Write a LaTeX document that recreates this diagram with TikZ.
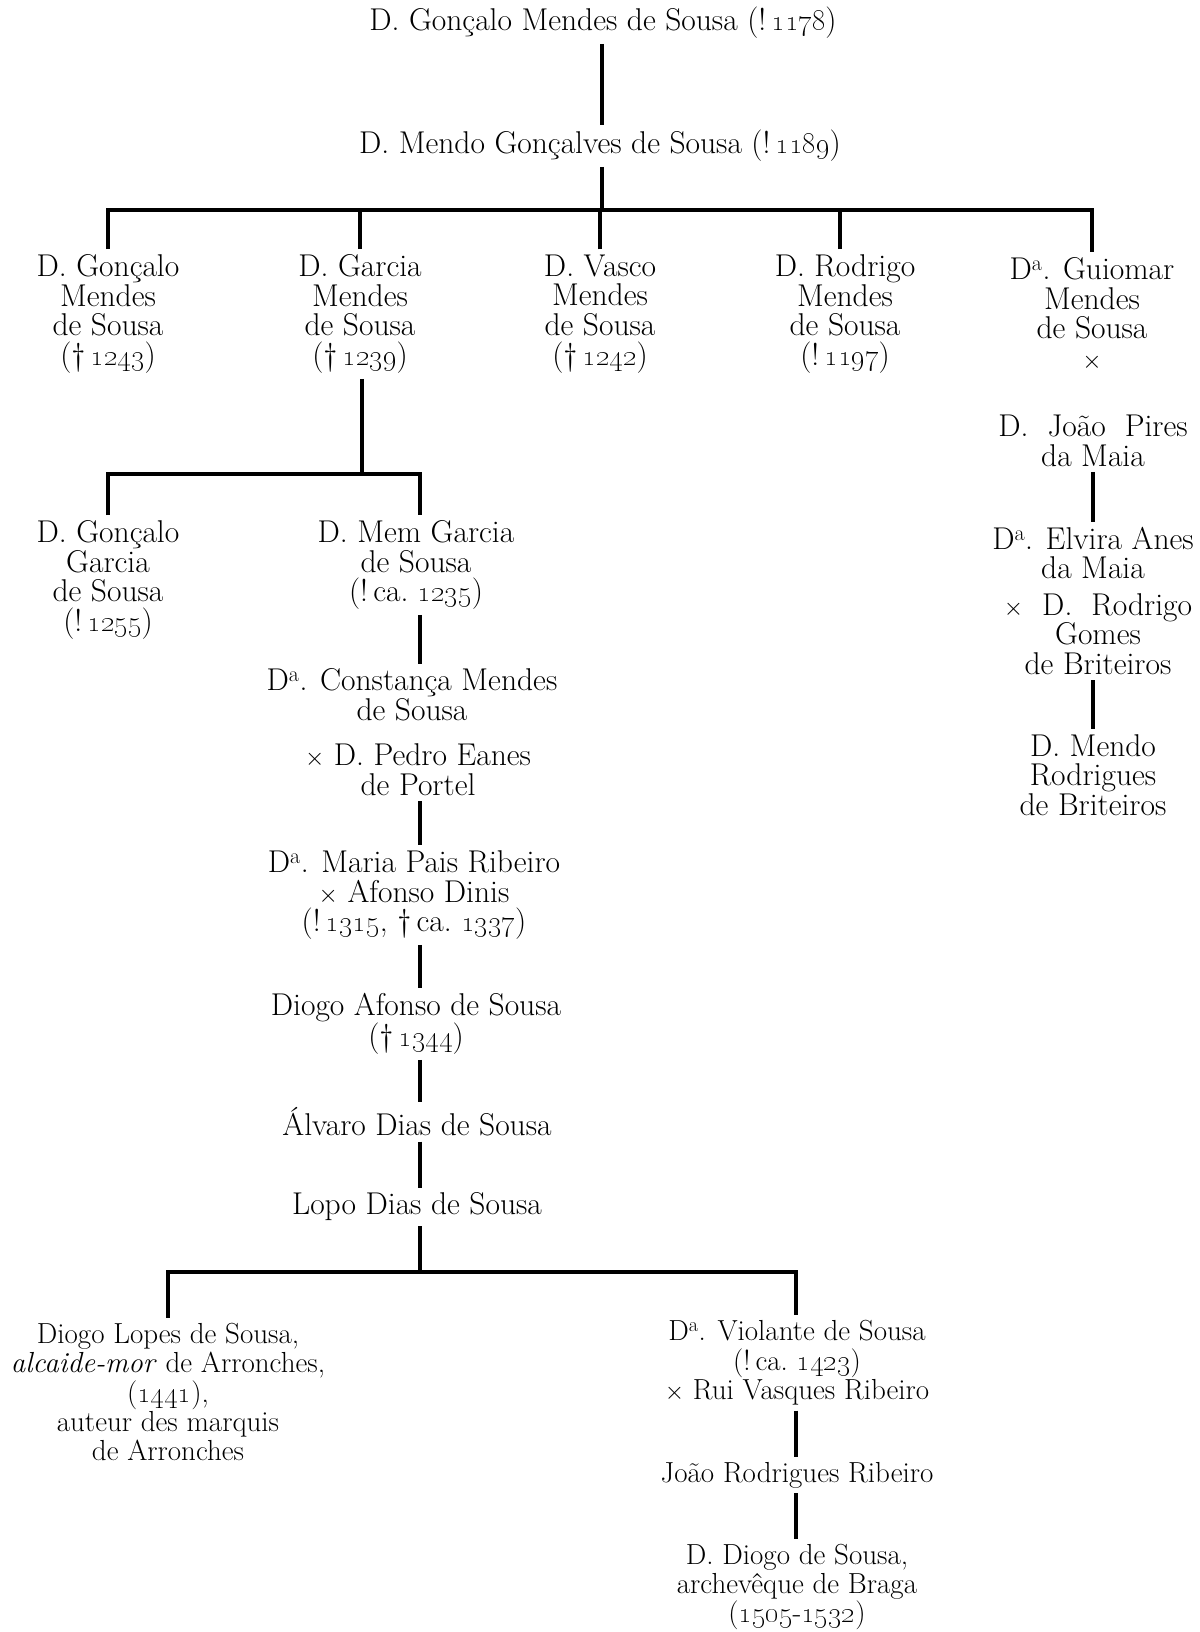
\documentclass[tikz,border=0pt]{standalone}
\newcommand\osn[1]{\oldstylenums{#1}}
\newcommand\Da{D\textsuperscript{a}}
\tikzset{
  person/.style={align=center, inner xsep=2pt, inner ysep=5pt, font=\fontsize{31.5}{29.8}\selectfont},
  narrowperson/.style={person, font=\fontsize{29}{29.4}\selectfont},
  link/.style={line width=3.1pt, line cap=butt}
}
\begin{document}
\begin{tikzpicture}[x=1pt,y=-1pt]
\useasboundingbox (0,0) rectangle (1199,1632);
% generation 0-1
\node[person] (g0) at (603,23) {D. Gonçalo Mendes de Sousa (!\,\osn{1178})};
\node[person] (g1) at (600,146) {D. Mendo Gonçalves de Sousa (!\,\osn{1189})};
% children of Mendo
\node[person] (c1) at (108,314) {D. Gonçalo\\Mendes\\de Sousa\\(\textdagger\,\osn{1243})};
\node[person] (c2) at (360,314) {D. Garcia\\Mendes\\de Sousa\\(\textdagger\,\osn{1239})};
\node[person] (c3) at (600,314) {D. Vasco\\Mendes\\de Sousa\\(\textdagger\,\osn{1242})};
\node[person] (c4) at (845,314) {D. Rodrigo\\Mendes\\de Sousa\\(!\,\osn{1197})};
\node[person] (c5) at (1092,314) {\Da. Guiomar\\Mendes\\de Sousa\\$\times$};
% right branch
\node[person] (jp) at (1093,441) {D.\ \ João\ \ Pires\\da Maia};
\node[person] (el) at (1093,553) {\Da. Elvira Anes\\da Maia};
\node[person] (rg) at (1098,634) {$\times$\ \ D.\ \ Rodrigo\\Gomes\\de Briteiros};
\node[person] (mr) at (1093,775) {D. Mendo\\Rodrigues\\de Briteiros};
% children of Garcia
\node[person] (gg) at (108,580) {D. Gonçalo\\Garcia\\de Sousa\\(!\,\osn{1255})};
\node[person] (mg) at (416,565) {D. Mem Garcia\\de Sousa\\(!\,ca.\ \osn{1235})};
\node[person] (cm) at (412,695) {\Da. Constança Mendes\\de Sousa};
\node[person] (pe) at (418,770) {$\times$ D. Pedro Eanes\\de Portel};
\node[person] (mp) at (414,895) {\Da. Maria Pais Ribeiro\\$\times$ Afonso Dinis\\(!\,\osn{1315}, \textdagger\,ca.\ \osn{1337})};
\node[person] (da) at (416,1024) {Diogo Afonso de Sousa\\(\textdagger\,\osn{1344})};
\node[person] (ad) at (417,1122) {Álvaro Dias de Sousa};
\node[person] (ld) at (417,1207) {Lopo Dias de Sousa};
% children of Lopo
\node[narrowperson] (dl) at (168,1392) {Diogo Lopes de Sousa,\\\textit{alcaide-mor} de Arronches,\\(\osn{1441}),\\auteur des marquis\\de Arronches};
\node[narrowperson] (vs) at (797,1363) {\Da. Violante de Sousa\\(!\,ca.\ \osn{1423})\\$\times$ Rui Vasques Ribeiro};
\node[narrowperson] (jr) at (797,1475) {João Rodrigues Ribeiro};
\node[narrowperson] (dd) at (797,1587) {D. Diogo de Sousa,\\archevêque de Braga\\(\osn{1505}-\osn{1532})};
% columns and bars
\coordinate (bar1) at (600,210);
\coordinate (bar2) at (362,474);
\coordinate (bar3) at (420,1272);
\coordinate (colT) at (602,0);
\coordinate (colM) at (420,0);
\coordinate (colR) at (1093,0);
\coordinate (colV) at (796,0);
\coordinate (colD) at (840,0);
% connectors
\draw[link] (g0.south -| colT) -- (g1.north -| colT);
\draw[link] (g1.south -| colT) -- (bar1 -| colT);
\draw[link] (c1.north) -- (c1.north |- bar1) -- (c5.north |- bar1) -- (c5.north);
\draw[link] (c2.north) -- (c2.north |- bar1);
\draw[link] (c3.north) -- (c3.north |- bar1);
\draw[link] (c4.north -| colD) -- (bar1 -| colD);
\draw[link] (c2.south -| bar2) -- (bar2);
\draw[link] (gg.north) -- (gg.north |- bar2) -- (bar2 -| colM) -- (mg.north -| colM);
\draw[link] (mg.south -| colM) -- (cm.north -| colM);
\draw[link] (pe.south -| colM) -- (mp.north -| colM);
\draw[link] (mp.south -| colM) -- (da.north -| colM);
\draw[link] (da.south -| colM) -- (ad.north -| colM);
\draw[link] (ad.south -| colM) -- (ld.north -| colM);
\draw[link] (ld.south -| colM) -- (bar3);
\draw[link] (dl.north) -- (dl.north |- bar3) -- (bar3 -| colV) -- (vs.north -| colV);
\draw[link] (vs.south -| colV) -- (jr.north -| colV);
\draw[link] (jr.south -| colV) -- (dd.north -| colV);
\draw[link] (jp.south -| colR) -- (el.north -| colR);
\draw[link] (rg.south -| colR) -- (mr.north -| colR);
\end{tikzpicture}
\end{document}
